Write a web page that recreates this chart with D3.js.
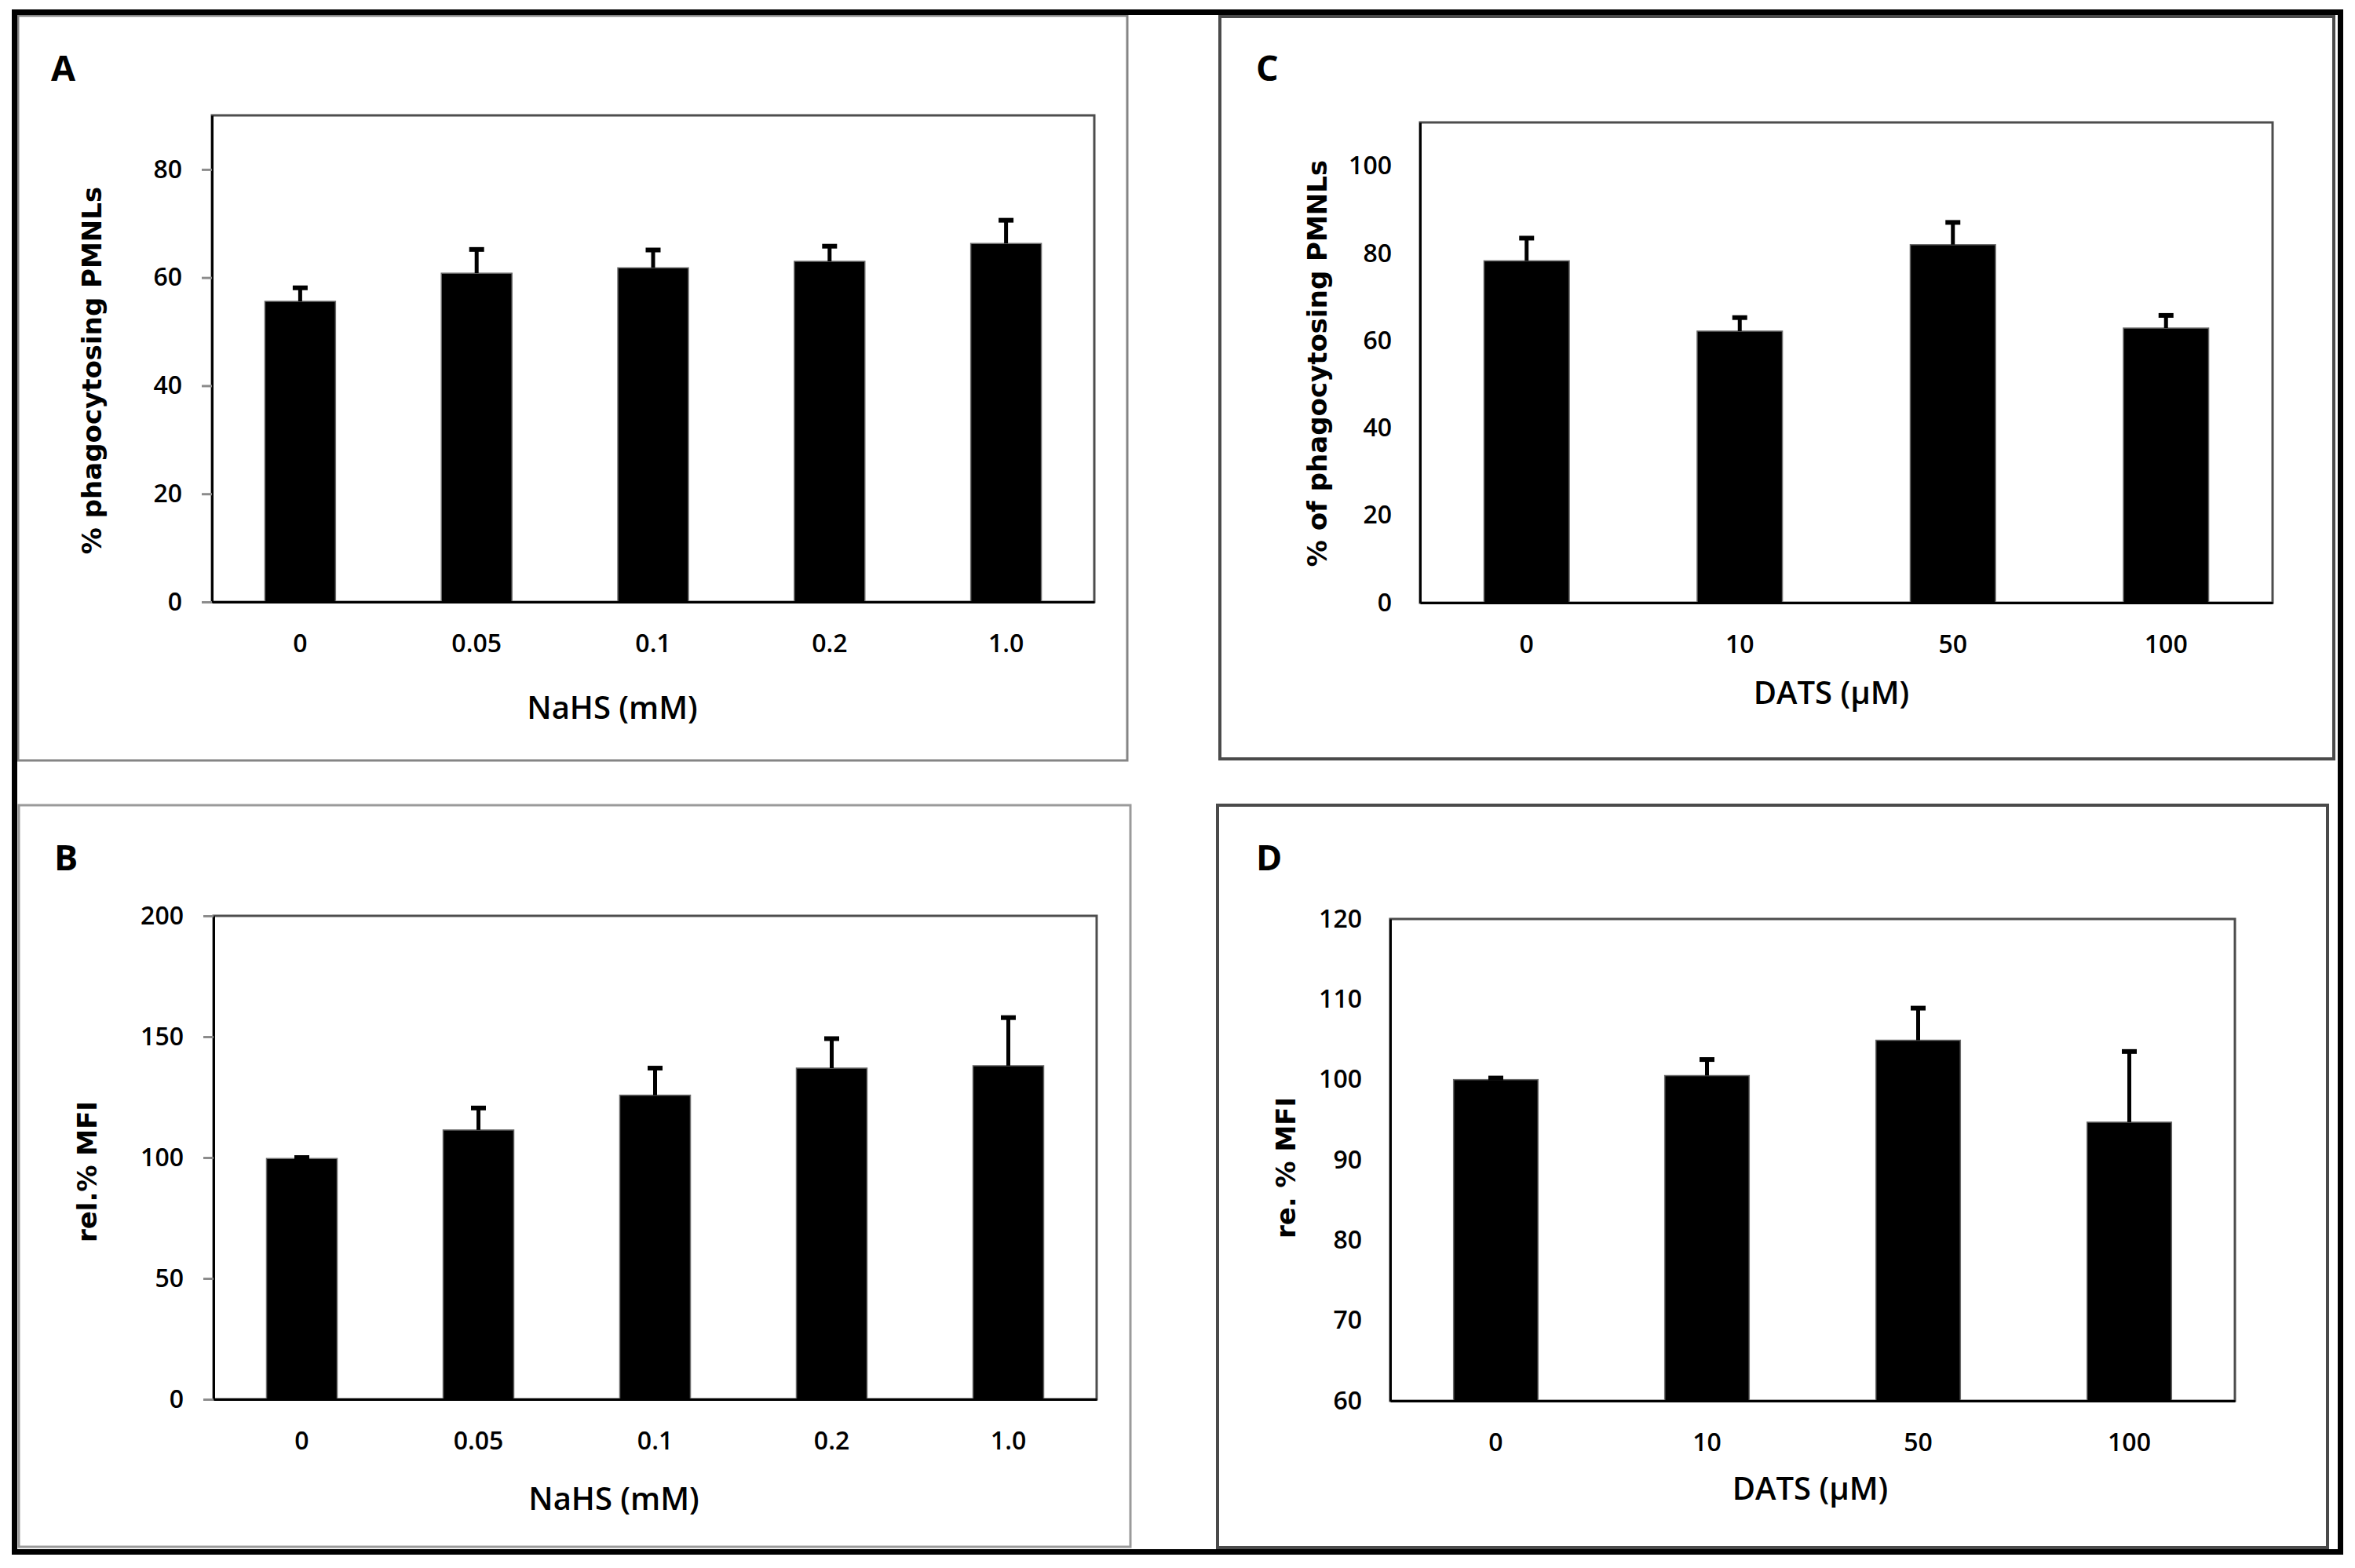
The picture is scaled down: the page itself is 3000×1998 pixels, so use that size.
<!DOCTYPE html>
<html>
<head>
<meta charset="utf-8">
<script src="https://cdn.jsdelivr.net/npm/d3@7"></script>
<style>
  body { margin: 0; background: #fff; }
</style>
</head>
<body>
<div id="chart"></div>
<script>
// categories
const nahsDoses = ["0", "0.05", "0.1", "0.2", "1.0"];
const datsDoses = ["0", "10", "50", "100"];

// series values (mean) and upper error (SD)
const phagoNahs = [55.6, 60.8, 61.8, 63.0, 66.3];
const phagoNahsErr = [2.5, 4.4, 3.3, 2.8, 4.3];
const mfiNahs = [99.6, 111.4, 125.8, 137.0, 138.0];
const mfiNahsErr = [0.4, 9.1, 11.2, 12.2, 19.9];
const phagoDats = [78.3, 62.2, 82.0, 62.9];
const phagoDatsErr = [5.2, 3.1, 5.1, 2.9];
const mfiDats = [100.0, 100.5, 104.9, 94.7];
const mfiDatsErr = [0.2, 2.0, 4.0, 8.8];

// tick labels
const ticksA = [0, 20, 40, 60, 80];
const ticksB = [0, 50, 100, 150, 200];
const ticksC = [0, 20, 40, 60, 80, 100];
const ticksD = [60, 70, 80, 90, 100, 110, 120];

const WIDTH = 3000;
const HEIGHT = 1998;
const TICK_FONT = "'Open Sans', sans-serif";
const TITLE_FONT = "'DejaVu Sans', sans-serif";

const svg = d3.select("#chart").append("svg").attr("width", WIDTH).attr("height", HEIGHT);
svg.append("rect").attr("width", WIDTH).attr("height", HEIGHT).attr("fill", "#fff");

/**
 * Layout of each panel (frames, plot areas and title positions)
 */
const panels = [
  {
    label: "A", labelPos: [65, 103],
    frame: [23, 20, 1436, 969], frameColor: "#858585", frameWidth: 3,
    plot: { left: 270, top: 147, right: 1394, bottom: 767 },
    categories: nahsDoses, values: phagoNahs, errors: phagoNahsErr,
    domain: [0, 90], ticks: ticksA, tickSize: 13,
    yTitle: "% phagocytosing PMNLs", yTitlePos: [129, 472],
    xTitle: "NaHS (mM)", xTitlePos: [780, 916],
  },
  {
    label: "B", labelPos: [69, 1109],
    frame: [24, 1026, 1440, 1971], frameColor: "#9a9a9a", frameWidth: 3,
    plot: { left: 272, top: 1167, right: 1397, bottom: 1783 },
    categories: nahsDoses, values: mfiNahs, errors: mfiNahsErr,
    domain: [0, 200], ticks: ticksB, tickSize: 13,
    yTitle: "rel.% MFI", yTitlePos: [123, 1493],
    xTitle: "NaHS (mM)", xTitlePos: [782, 1924],
  },
  {
    label: "C", labelPos: [1600, 103],
    frame: [1554, 21, 2973, 967], frameColor: "#4a4a4a", frameWidth: 4,
    plot: { left: 1809, top: 156, right: 2895, bottom: 768 },
    categories: datsDoses, values: phagoDats, errors: phagoDatsErr,
    domain: [0, 110], ticks: ticksC, tickSize: 0,
    yTitle: "% of phagocytosing PMNLs", yTitlePos: [1690, 463],
    xTitle: "DATS (µM)", xTitlePos: [2333, 897],
  },
  {
    label: "D", labelPos: [1600, 1109],
    frame: [1551, 1026, 2965, 1972], frameColor: "#4a4a4a", frameWidth: 4,
    plot: { left: 1771, top: 1171, right: 2847, bottom: 1785 },
    categories: datsDoses, values: mfiDats, errors: mfiDatsErr,
    domain: [60, 120], ticks: ticksD, tickSize: 0,
    yTitle: "re. % MFI", yTitlePos: [1650, 1488],
    xTitle: "DATS (µM)", xTitlePos: [2306, 1911],
  },
];

function drawPanel(p) {
  const g = svg.append("g").attr("class", "panel-" + p.label);
  const [fx1, fy1, fx2, fy2] = p.frame;

  g.append("rect")
    .attr("x", fx1).attr("y", fy1)
    .attr("width", fx2 - fx1).attr("height", fy2 - fy1)
    .attr("fill", "none")
    .attr("stroke", p.frameColor)
    .attr("stroke-width", p.frameWidth);

  g.append("text")
    .attr("x", p.labelPos[0]).attr("y", p.labelPos[1])
    .attr("font-family", TICK_FONT).attr("font-weight", "bold").attr("font-size", 45)
    .text(p.label);

  const x = d3.scaleBand()
    .domain(p.categories)
    .range([p.plot.left, p.plot.right])
    .paddingInner(0.6)
    .paddingOuter(0.3);
  const y = d3.scaleLinear().domain(p.domain).range([p.plot.bottom, p.plot.top]);
  const base = p.domain[0];

  // plot area box
  g.append("rect")
    .attr("x", p.plot.left).attr("y", p.plot.top)
    .attr("width", p.plot.right - p.plot.left).attr("height", p.plot.bottom - p.plot.top)
    .attr("fill", "none").attr("stroke", "#4d4d4d").attr("stroke-width", 3);

  // bars
  g.selectAll("rect.bar")
    .data(p.values)
    .enter()
    .append("rect")
    .attr("class", "bar")
    .attr("x", (d, i) => x(p.categories[i]))
    .attr("y", (d) => y(d))
    .attr("width", x.bandwidth())
    .attr("height", (d) => y(base) - y(d))
    .attr("fill", "#000")
    .attr("stroke", "#6a6a6a")
    .attr("stroke-width", 1.5);

  // error bars (upper only)
  const errs = g.selectAll("g.err")
    .data(p.values)
    .enter()
    .append("g")
    .attr("class", "err")
    .attr("transform", (d, i) => `translate(${x(p.categories[i]) + x.bandwidth() / 2},0)`);
  errs.append("line")
    .attr("x1", 0).attr("x2", 0)
    .attr("y1", (d) => y(d))
    .attr("y2", (d, i) => y(d + p.errors[i]))
    .attr("stroke", "#000").attr("stroke-width", 5);
  errs.append("line")
    .attr("x1", -9.5).attr("x2", 9.5)
    .attr("y1", (d, i) => y(d + p.errors[i]))
    .attr("y2", (d, i) => y(d + p.errors[i]))
    .attr("stroke", "#000").attr("stroke-width", 6);

  // y axis
  const yAxis = d3.axisLeft(y)
    .tickValues(p.ticks)
    .tickSize(p.tickSize)
    .tickSizeOuter(0)
    .tickPadding(p.tickSize > 0 ? 25 : 36)
    .tickFormat(d3.format("d"));
  const ya = g.append("g").attr("transform", `translate(${p.plot.left},0)`).call(yAxis);
  ya.select(".domain").attr("stroke", "#000").attr("stroke-width", 3);
  ya.selectAll(".tick line").attr("stroke", "#8c8c8c").attr("stroke-width", 3);
  ya.selectAll(".tick text")
    .attr("font-family", TICK_FONT).attr("font-weight", 600).attr("font-size", 32).attr("fill", "#000");

  // x axis
  const xAxis = d3.axisBottom(x).tickSize(0).tickSizeOuter(0);
  const xa = g.append("g").attr("transform", `translate(0,${p.plot.bottom})`).call(xAxis);
  xa.select(".domain").attr("stroke", "#000").attr("stroke-width", 3);
  xa.selectAll(".tick text")
    .attr("y", 64).attr("dy", null)
    .attr("font-family", TICK_FONT).attr("font-weight", 600).attr("font-size", 32).attr("fill", "#000");

  // axis titles
  g.append("text")
    .attr("transform", `translate(${p.yTitlePos[0]},${p.yTitlePos[1]}) rotate(-90)`)
    .attr("text-anchor", "middle")
    .attr("font-family", TITLE_FONT).attr("font-weight", "bold").attr("font-size", 34)
    .text(p.yTitle);

  g.append("text")
    .attr("x", p.xTitlePos[0]).attr("y", p.xTitlePos[1])
    .attr("text-anchor", "middle")
    .attr("font-family", TICK_FONT).attr("font-weight", 600).attr("font-size", 40)
    .text(p.xTitle);
}

panels.forEach(drawPanel);

// outer figure border
svg.append("rect")
  .attr("x", 18.5).attr("y", 15.5)
  .attr("width", 2963).attr("height", 1962)
  .attr("fill", "none")
  .attr("stroke", "#000")
  .attr("stroke-width", 7);
</script>
</body>
</html>
